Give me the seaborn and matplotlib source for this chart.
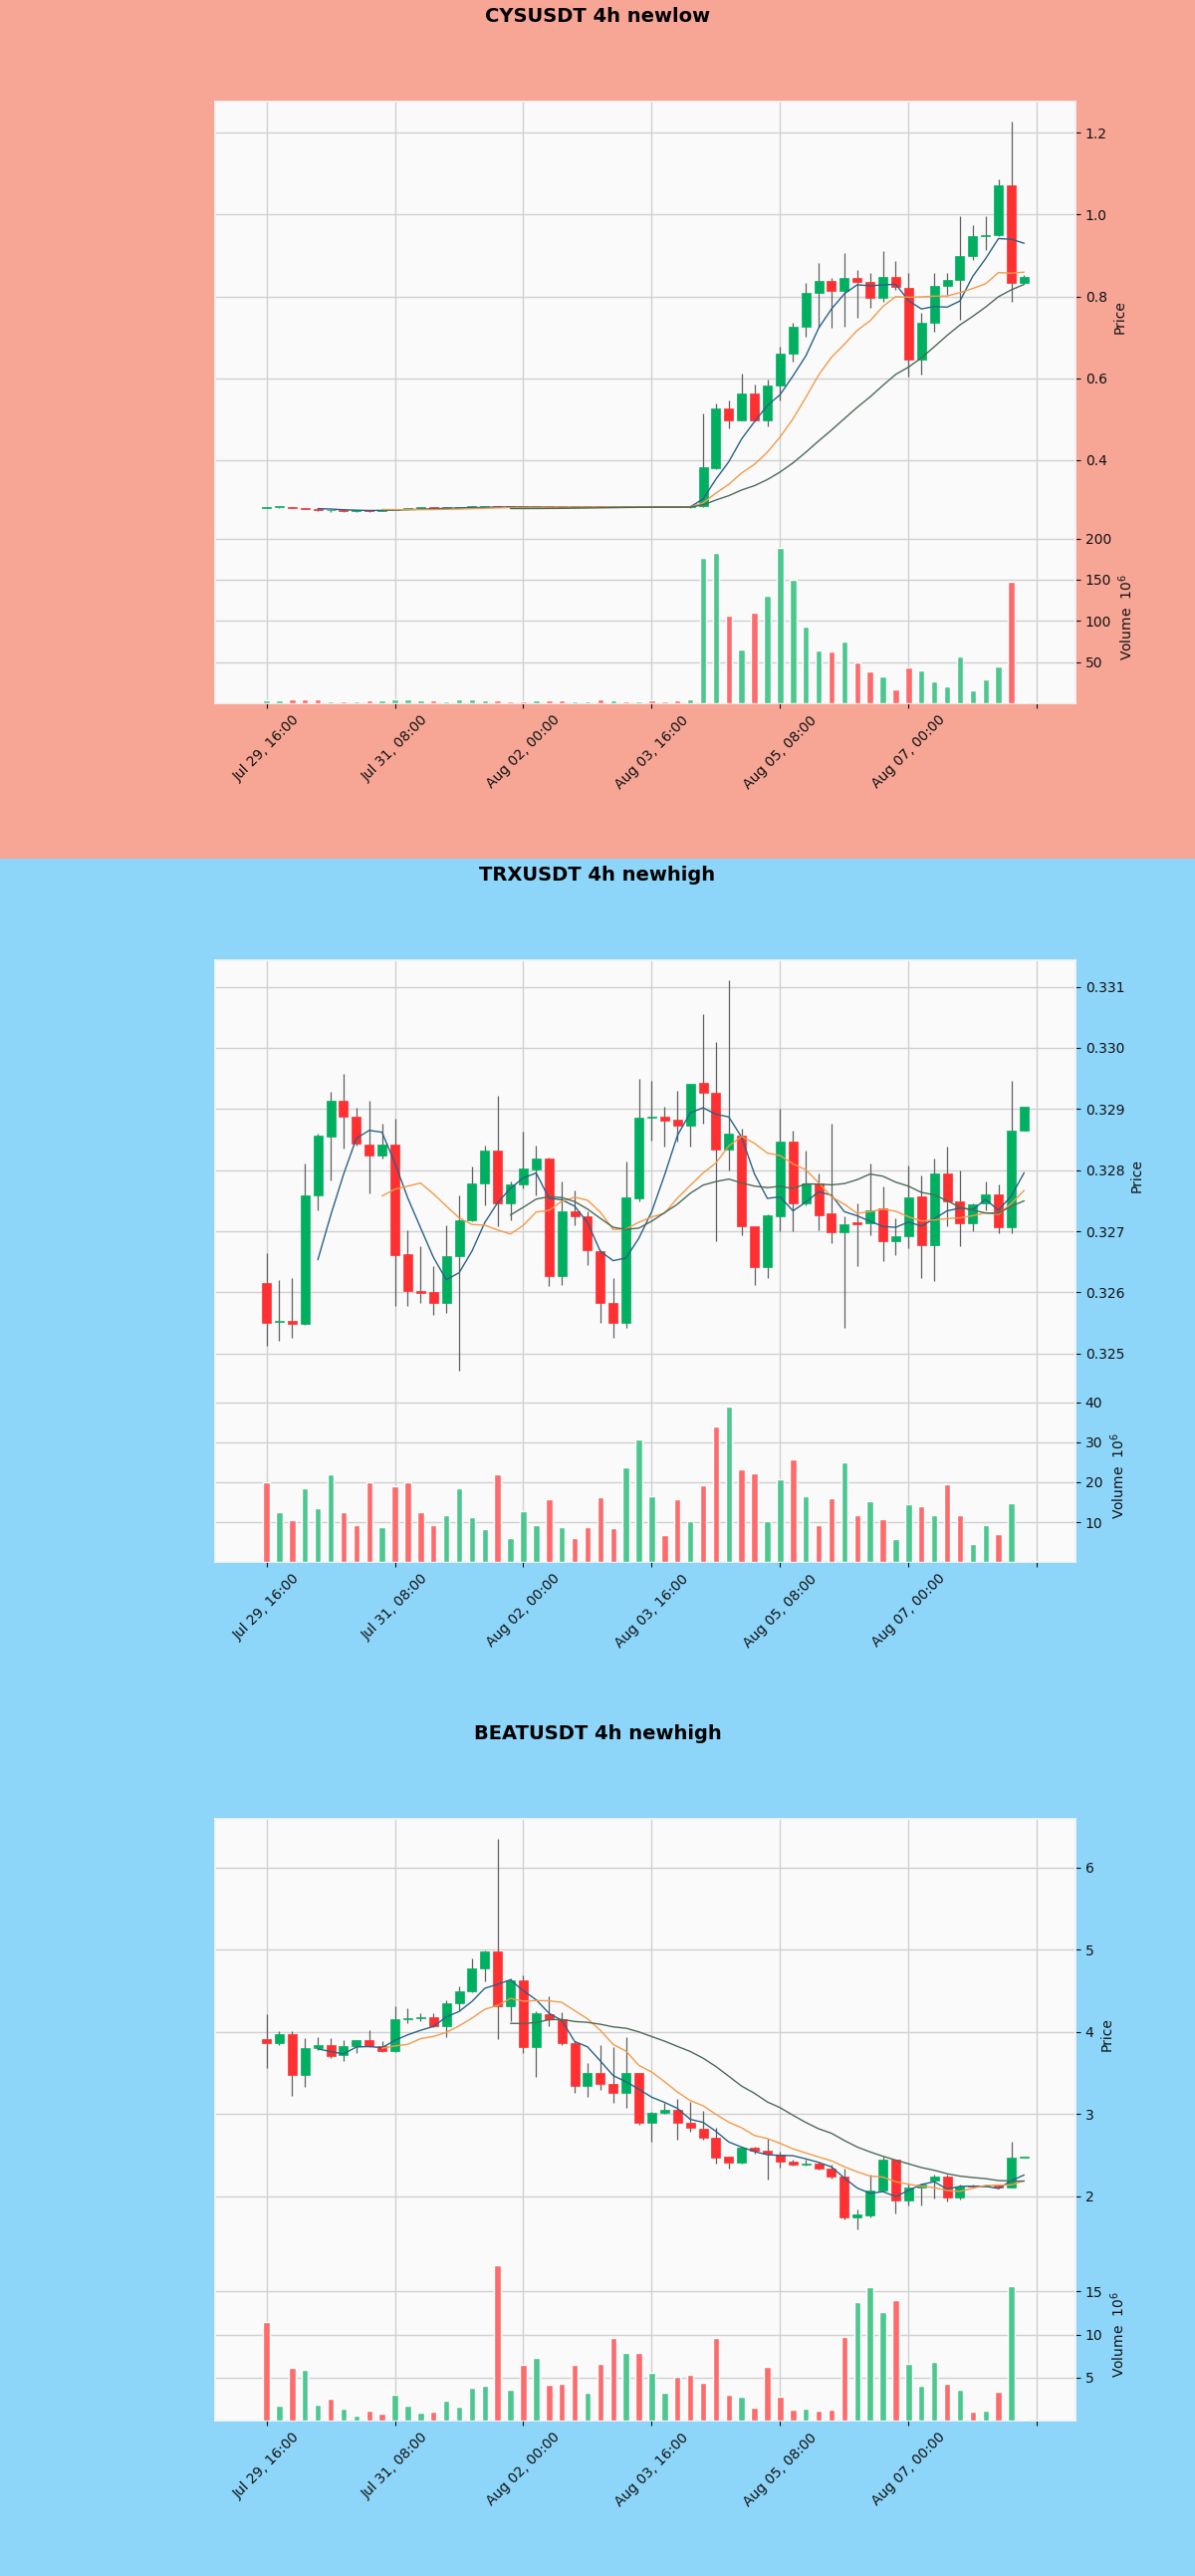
import matplotlib
matplotlib.use("Agg")
import matplotlib.pyplot as plt
import seaborn as sns
import pandas as pd
import numpy as np

# ---- data (4h candles, 60 bars from Jul 29 16:00) ----
start_time = "2025-07-29 16:00"
n_bars = 60

cys_open = [0.2838, 0.2842, 0.2845, 0.2822, 0.2800, 0.2768, 0.2782, 0.2760, 0.2770, 0.2762,
            0.2784, 0.2802, 0.2818, 0.2828, 0.2822, 0.2838, 0.2846, 0.2856, 0.2864, 0.2858,
            0.2852, 0.2848, 0.2854, 0.2850, 0.2846, 0.2852, 0.2856, 0.2853, 0.2857, 0.2855,
            0.2858, 0.2854, 0.2850, 0.2847, 0.2870, 0.3796, 0.5265, 0.4980, 0.5633, 0.4980,
            0.5812, 0.6596, 0.7265, 0.8082, 0.8384, 0.8147, 0.8449, 0.8367, 0.7959, 0.8490,
            0.8204, 0.6449, 0.7347, 0.8261, 0.8408, 0.8980, 0.9469, 0.9510, 1.0710, 0.8327]
cys_high = [0.2850, 0.2852, 0.2849, 0.2828, 0.2806, 0.2790, 0.2788, 0.2778, 0.2776, 0.2790,
            0.2808, 0.2826, 0.2834, 0.2836, 0.2842, 0.2850, 0.2862, 0.2870, 0.2872, 0.2864,
            0.2860, 0.2858, 0.2860, 0.2858, 0.2856, 0.2862, 0.2864, 0.2860, 0.2864, 0.2862,
            0.2866, 0.2860, 0.2858, 0.2880, 0.5143, 0.5388, 0.5470, 0.6122, 0.5837, 0.5959,
            0.6776, 0.7347, 0.8327, 0.8816, 0.8449, 0.9061, 0.8653, 0.8571, 0.9102, 0.8857,
            0.8571, 0.7592, 0.8571, 0.8571, 0.9959, 0.9755, 0.9959, 1.0857, 1.2286, 0.8530]
cys_low = [0.2828, 0.2834, 0.2818, 0.2795, 0.2760, 0.2730, 0.2740, 0.2722, 0.2738, 0.2750,
           0.2776, 0.2795, 0.2810, 0.2812, 0.2816, 0.2828, 0.2838, 0.2848, 0.2850, 0.2848,
           0.2842, 0.2840, 0.2844, 0.2842, 0.2840, 0.2846, 0.2848, 0.2846, 0.2850, 0.2848,
           0.2850, 0.2846, 0.2842, 0.2840, 0.2860, 0.3780, 0.4776, 0.4970, 0.4939, 0.4816,
           0.5470, 0.6408, 0.7020, 0.7224, 0.7224, 0.7265, 0.7469, 0.7714, 0.7878, 0.8163,
           0.6041, 0.6082, 0.7143, 0.8041, 0.7429, 0.8898, 0.9143, 0.9486, 0.7878, 0.8310]
cys_close = [0.2842, 0.2845, 0.2822, 0.2800, 0.2768, 0.2782, 0.2760, 0.2770, 0.2762, 0.2784,
             0.2802, 0.2818, 0.2828, 0.2822, 0.2838, 0.2846, 0.2856, 0.2864, 0.2858, 0.2852,
             0.2848, 0.2854, 0.2850, 0.2846, 0.2852, 0.2856, 0.2853, 0.2857, 0.2855, 0.2858,
             0.2854, 0.2850, 0.2847, 0.2870, 0.3837, 0.5265, 0.4980, 0.5633, 0.4980, 0.5812,
             0.6596, 0.7265, 0.8082, 0.8384, 0.8147, 0.8449, 0.8367, 0.7959, 0.8490, 0.8229,
             0.6449, 0.7347, 0.8261, 0.8408, 0.8980, 0.9469, 0.9510, 1.0710, 0.8327, 0.8490]
cys_volume = [4.1, 3.6, 5.2, 4.8, 5.5, 3.2, 2.9, 3.0, 4.4, 3.8,
              4.6, 5.0, 4.2, 3.5, 3.1, 4.9, 5.3, 4.0, 3.7, 2.8,
              3.3, 4.5, 3.9, 3.4, 2.6, 3.0, 4.7, 3.6, 3.2, 2.7,
              3.8, 3.1, 4.3, 5.6, 176, 183, 107, 66, 110, 131,
              189, 150, 93, 64, 63, 75, 50, 39, 33, 17,
              44, 40, 27, 21, 57, 16, 29, 45, 147, 1.2]

trx_open = [0.326152, 0.325510, 0.325527, 0.325484, 0.327592, 0.328544, 0.329130, 0.328880, 0.328418, 0.328245,
            0.328418, 0.326625, 0.326016, 0.326005, 0.325826, 0.326587, 0.327185, 0.327783, 0.328326, 0.327456,
            0.327766, 0.328016, 0.328190, 0.326261, 0.327321, 0.327239, 0.326679, 0.325826, 0.325500, 0.327538,
            0.328859, 0.328880, 0.328826, 0.328723, 0.329424, 0.329266, 0.328342, 0.328571, 0.327076, 0.326407,
            0.327250, 0.328462, 0.327456, 0.327783, 0.327293, 0.326983, 0.327141, 0.327130, 0.327375, 0.326843,
            0.326913, 0.327565, 0.326766, 0.327946, 0.327484, 0.327130, 0.327456, 0.327603, 0.327060, 0.328652]
trx_high = [0.326641, 0.326206, 0.326234, 0.328109, 0.328598, 0.329277, 0.329576, 0.329016, 0.329141, 0.328761,
            0.328842, 0.327022, 0.326750, 0.326424, 0.327103, 0.327592, 0.328054, 0.328408, 0.329223, 0.327810,
            0.328625, 0.328408, 0.328200, 0.327810, 0.327674, 0.327321, 0.326696, 0.326234, 0.328136, 0.329494,
            0.329467, 0.329032, 0.329304, 0.329420, 0.330554, 0.330103, 0.331114, 0.328679, 0.327080, 0.327270,
            0.329005, 0.328652, 0.328326, 0.327946, 0.328761, 0.327239, 0.327456, 0.328109, 0.327728, 0.327212,
            0.328081, 0.327918, 0.328190, 0.328380, 0.328000, 0.327456, 0.327810, 0.327766, 0.329467, 0.329032]
trx_low = [0.325120, 0.325201, 0.325255, 0.325470, 0.327348, 0.327837, 0.328353, 0.328408, 0.327620, 0.328190,
           0.325772, 0.325772, 0.325826, 0.325636, 0.325663, 0.324712, 0.327158, 0.327429, 0.327076, 0.327185,
           0.327701, 0.327592, 0.326098, 0.326125, 0.327103, 0.326451, 0.325500, 0.325255, 0.325418, 0.327484,
           0.328489, 0.328380, 0.328462, 0.328380, 0.328761, 0.326843, 0.328000, 0.326940, 0.326125, 0.326234,
           0.326994, 0.326994, 0.327429, 0.327022, 0.326804, 0.325418, 0.326424, 0.326940, 0.326505, 0.326614,
           0.326723, 0.326234, 0.326179, 0.327076, 0.326750, 0.326994, 0.327348, 0.326967, 0.326967, 0.328652]
trx_close = [0.325500, 0.325516, 0.325484, 0.327592, 0.328571, 0.329130, 0.328870, 0.328435, 0.328245, 0.328418,
             0.326614, 0.326016, 0.325989, 0.325826, 0.326587, 0.327185, 0.327783, 0.328326, 0.327456, 0.327766,
             0.328027, 0.328190, 0.326261, 0.327331, 0.327239, 0.326696, 0.325826, 0.325500, 0.327549, 0.328859,
             0.328870, 0.328815, 0.328734, 0.329413, 0.329266, 0.328342, 0.328598, 0.327076, 0.326407, 0.327266,
             0.328462, 0.327456, 0.327783, 0.327266, 0.326983, 0.327114, 0.327114, 0.327348, 0.326832, 0.326913,
             0.327549, 0.326777, 0.327946, 0.327484, 0.327130, 0.327440, 0.327603, 0.327060, 0.328652, 0.329032]
trx_volume = [20.0, 12.5, 10.6, 18.6, 13.6, 22.1, 12.5, 9.2, 20.0, 8.75,
              18.9, 20.0, 12.5, 9.4, 11.7, 18.6, 11.25, 8.3, 22.1, 6.1,
              12.7, 9.2, 15.8, 8.75, 6.1, 8.75, 16.25, 8.5, 23.75, 30.8,
              16.5, 6.9, 15.8, 10.4, 19.2, 34.0, 39.0, 23.3, 22.3, 10.4,
              20.7, 25.6, 16.5, 9.2, 16.1, 25.0, 11.7, 15.25, 10.7, 5.8,
              14.4, 13.9, 11.7, 19.6, 11.8, 4.6, 9.2, 7.1, 14.75, 0.25]

beat_open = [3.911, 3.862, 3.976, 3.478, 3.802, 3.842, 3.713, 3.830, 3.903, 3.830,
             3.773, 4.154, 4.166, 4.178, 4.065, 4.348, 4.490, 4.773, 4.976, 4.308,
             4.623, 3.822, 4.219, 4.154, 3.870, 3.344, 3.498, 3.368, 3.263, 3.498,
             2.891, 3.012, 3.053, 2.899, 2.818, 2.709, 2.478, 2.405, 2.587, 2.559,
             2.506, 2.425, 2.385, 2.397, 2.344, 2.243, 1.749, 1.769, 2.073, 2.445,
             1.951, 2.113, 2.194, 2.243, 1.992, 2.134, 2.125, 2.138, 2.110, 2.466]
beat_high = [4.219, 4.004, 4.004, 3.923, 3.943, 3.923, 3.903, 3.903, 4.016, 3.883,
             4.308, 4.287, 4.227, 4.227, 4.389, 4.551, 4.895, 4.996, 6.352, 4.652,
             4.692, 4.247, 4.429, 4.235, 3.883, 3.619, 3.842, 3.822, 3.943, 3.505,
             3.030, 3.142, 3.182, 3.154, 3.045, 2.830, 2.486, 2.599, 2.607, 2.696,
             2.547, 2.445, 2.453, 2.413, 2.385, 2.344, 1.838, 2.263, 2.478, 2.453,
             2.162, 2.162, 2.263, 2.263, 2.142, 2.142, 2.140, 2.150, 2.668, 2.470]
beat_low = [3.559, 3.842, 3.223, 3.336, 3.781, 3.680, 3.652, 3.749, 3.814, 3.761,
            3.761, 4.105, 4.125, 4.057, 3.943, 4.267, 4.478, 4.611, 3.911, 4.125,
            3.741, 3.457, 4.065, 3.842, 3.255, 3.215, 3.296, 3.134, 3.073, 2.870,
            2.668, 3.004, 2.688, 2.789, 2.688, 2.397, 2.344, 2.397, 2.526, 2.211,
            2.356, 2.372, 2.372, 2.324, 2.223, 1.725, 1.595, 1.749, 2.061, 1.798,
            1.887, 1.887, 1.980, 1.939, 1.960, 2.113, 2.118, 2.100, 2.105, 2.466]
beat_close = [3.870, 3.976, 3.478, 3.802, 3.842, 3.709, 3.830, 3.900, 3.830, 3.773,
              4.154, 4.166, 4.174, 4.065, 4.348, 4.490, 4.773, 4.976, 4.308, 4.623,
              3.822, 4.227, 4.154, 3.870, 3.344, 3.498, 3.368, 3.263, 3.498, 2.891,
              3.012, 3.053, 2.899, 2.830, 2.709, 2.466, 2.405, 2.587, 2.559, 2.518,
              2.425, 2.385, 2.397, 2.344, 2.243, 1.749, 1.777, 2.073, 2.445, 1.951,
              2.113, 2.142, 2.243, 1.992, 2.121, 2.125, 2.134, 2.110, 2.466, 2.470]
beat_volume = [11.44, 1.78, 6.19, 5.92, 1.86, 2.55, 1.40, 0.56, 1.17, 0.82,
               3.01, 1.78, 0.94, 1.09, 2.32, 1.70, 3.89, 4.08, 18.07, 3.62,
               6.49, 7.34, 4.16, 4.27, 6.49, 3.31, 6.57, 9.64, 7.91, 7.91,
               5.61, 3.31, 5.15, 5.31, 4.46, 9.64, 3.01, 2.85, 1.55, 6.26,
               2.82, 1.32, 1.40, 1.21, 1.32, 9.75, 13.74, 15.46, 12.59, 14.04,
               6.57, 4.08, 6.84, 4.35, 3.62, 1.09, 1.21, 3.39, 15.57, 0.10]

mav_periods = [5, 10, 20]

# ---- style ----
UP, DOWN = "#00b060", "#fe3032"
VUP, VDOWN = "#4dc790", "#fd6b6c"
WICK = "#606060"
MAV_COLORS = ["#2a6286", "#f39a4a", "#4d6a58"]
BG_LOW = "#f7a696"
BG_HIGH = "#8dd6fa"

sns.set_theme(style="whitegrid")
plt.rcParams["font.family"] = ["DejaVu Sans"]
plt.rcParams["axes.labelcolor"] = "#101010"
plt.rcParams["xtick.color"] = "#101010"
plt.rcParams["ytick.color"] = "#101010"

times = pd.date_range(start_time, periods=n_bars, freq="4h")


def draw_chart(sf, title, opens, highs, lows, closes, vols, bg):
    sf.set_facecolor(bg)
    df = pd.DataFrame({"open": opens, "high": highs, "low": lows,
                       "close": closes, "volume": vols})
    df["idx"] = np.arange(len(df))
    df["up"] = df["close"] >= df["open"]

    ax = sf.add_axes([0.18, 0.3805, 0.72, 0.5012])
    axv = sf.add_axes([0.18, 0.181, 0.72, 0.1995], sharex=ax)

    for a in (ax, axv):
        a.set_facecolor("#fafafa")
        a.grid(True, color="#d0d0d0", linewidth=1.0)
        a.set_axisbelow(True)
        a.yaxis.tick_right()
        a.yaxis.set_label_position("right")
        a.tick_params(axis="both", labelsize=10, length=3.5, width=0.8,
                      color="#101010", right=True, left=False)
        for sp in a.spines.values():
            sp.set_color("#f4f4f4")
    # no seam between the two panels
    ax.spines["bottom"].set_visible(False)
    axv.spines["top"].set_visible(False)

    # candles
    rng = df["high"].max() - df["low"].min()
    colors = np.where(df["up"], UP, DOWN)
    ax.vlines(df["idx"], df["low"], df["high"], color=WICK, linewidth=0.9, zorder=2)
    body_lo = np.minimum(df["open"], df["close"])
    body_h = np.maximum((df["close"] - df["open"]).abs(), rng * 0.0025)
    ax.bar(df["idx"], body_h, bottom=body_lo, width=0.7, color=colors,
           edgecolor=colors, linewidth=0.5, zorder=3)

    # moving averages
    for period, col in zip(mav_periods, MAV_COLORS):
        ma = df["close"].rolling(period).mean()
        ok = ma.notna()
        sns.lineplot(x=df["idx"][ok], y=ma[ok], ax=ax, color=col,
                     linewidth=1.0, zorder=4)

    # volume
    sns.barplot(data=df, x="idx", y="volume", hue="up",
                palette={True: VUP, False: VDOWN}, native_scale=True,
                width=0.5, dodge=False, saturation=1, errorbar=None,
                legend=False, ax=axv, zorder=3)

    ax.set_xlim(-4, len(df) - 1 + 4)
    ax.set_ylim(df["low"].min() - 0.05 * rng, df["high"].max() + 0.05 * rng)
    axv.set_ylim(0.3 * df["volume"].min(), 1.1 * df["volume"].max())
    ax.ticklabel_format(axis="y", useOffset=False, style="plain")

    ticks = list(range(0, len(df) + 1, 10))
    labels = [times[t].strftime("%b %d, %H:%M") if t < len(df) else "" for t in ticks]
    axv.set_xticks(ticks)
    axv.set_xticklabels(labels, rotation=45, ha="center")
    axv.tick_params(axis="x", bottom=True)
    ax.tick_params(axis="x", labelbottom=False, bottom=False)

    ax.set_xlabel("")
    axv.set_xlabel("")
    ax.set_ylabel("Price", fontsize=10)
    axv.set_ylabel("Volume  $10^{6}$", fontsize=10)

    sf.suptitle(title, y=0.981, va="center", fontsize=14, fontweight="bold",
                color="black")


fig = plt.figure(figsize=(12, 25.86), dpi=100)
subfigs = fig.subfigures(3, 1, wspace=0, hspace=0)

draw_chart(subfigs[0], "CYSUSDT 4h newlow", cys_open, cys_high, cys_low,
           cys_close, cys_volume, BG_LOW)
draw_chart(subfigs[1], "TRXUSDT 4h newhigh", trx_open, trx_high, trx_low,
           trx_close, trx_volume, BG_HIGH)
draw_chart(subfigs[2], "BEATUSDT 4h newhigh", beat_open, beat_high, beat_low,
           beat_close, beat_volume, BG_HIGH)

fig.savefig("out.png", dpi=100)
